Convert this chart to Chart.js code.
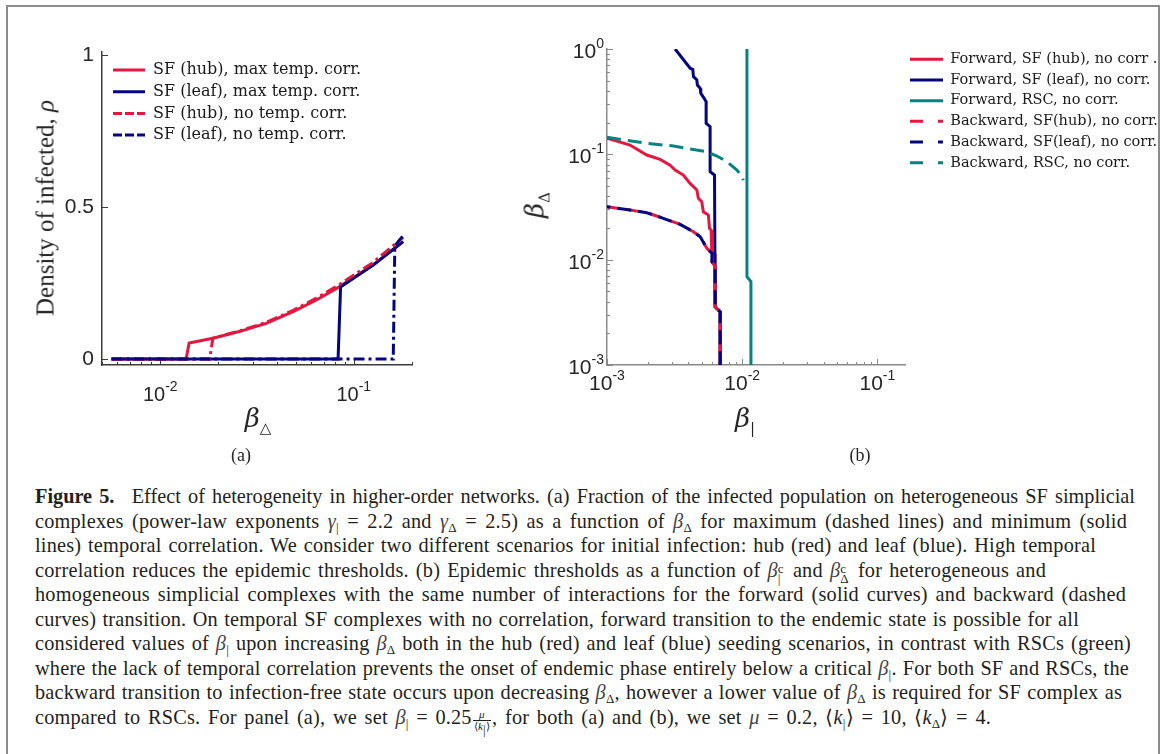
<!DOCTYPE html>
<html>
<head>
<meta charset="utf-8">
<script src="https://cdn.jsdelivr.net/npm/chart.js@4.4.1/dist/chart.umd.min.js"></script>
<style>
html,body{margin:0;padding:0;background:#fff;}
body{width:1168px;height:754px;position:relative;overflow:hidden;font-family:"Liberation Serif",serif;}
#frame{position:absolute;left:6px;top:5px;width:1154px;height:800px;border:2px solid #8c8c8c;border-bottom:none;box-sizing:border-box;}
canvas{position:absolute;top:0;}
#ca{left:0;}
#cb{left:480px;}
.lbl{position:absolute;white-space:nowrap;color:#262626;transform:translate(-50%,-50%);line-height:1;}
.rot{transform:translate(-50%,-50%) rotate(-90deg);}
.ax{font-size:25px;}
.bt{font-size:26px;font-family:"DejaVu Serif",serif;}
.bt i{font-style:italic;}
.bt sub{font-size:15px;vertical-align:-6px;font-style:normal;}
.pl{font-size:18px;}
#cap{position:absolute;left:35px;top:484px;font-size:20.3px;letter-spacing:0.2px;line-height:24.55px;color:#231f20;}
#cap div{text-align:justify;text-align-last:justify;height:24.55px;overflow:visible;}
#cap div.l1{letter-spacing:0;}
#cap i.m{font-style:italic;color:#444;}
#cap sub{font-size:13px;vertical-align:-4px;line-height:0;}
#cap .ss{display:inline-block;vertical-align:-6px;line-height:10px;font-size:13px;margin-right:2px;text-align:left;text-align-last:left;}
#cap .ss span{display:block;}
#cap .fr{display:inline-block;vertical-align:-6px;text-align:center;text-align-last:center;font-size:11px;line-height:11px;margin:0 1px;}
#cap .fr span{display:block;}
#cap .fr .dn{border-top:1px solid #231f20;padding:0 1px;}
</style>
</head>
<body>
<div id="frame"></div>
<canvas id="ca" width="470" height="470"></canvas>
<canvas id="cb" width="688" height="470"></canvas>

<div class="lbl rot ax" style="left:45px;top:208px;">Density of infected, <i>ρ</i></div>
<div class="lbl bt" style="left:258px;top:420px;"><i>β</i><sub>△</sub></div>
<div class="lbl pl" style="left:241px;top:455px;">(a)</div>
<div class="lbl rot bt" style="left:537px;top:205px;"><i>β</i><sub>Δ</sub></div>
<div class="lbl bt" style="left:745px;top:420px;"><i>β</i><sub>|</sub></div>
<div class="lbl pl" style="left:860px;top:455px;">(b)</div>

<div id="cap">
<div class="l1" style="width:1100px"><b>Figure 5.</b>&ensp; Effect of heterogeneity in higher-order networks. (a) Fraction of the infected population on heterogeneous SF simplicial</div>
<div style="width:1092px">complexes (power-law exponents <i class="m">γ</i><sub>|</sub> = 2.2 and <i class="m">γ</i><sub>Δ</sub> = 2.5) as a function of <i class="m">β</i><sub>Δ</sub> for maximum (dashed lines) and minimum (solid</div>
<div style="width:1061px">lines) temporal correlation. We consider two different scenarios for initial infection: hub (red) and leaf (blue). High temporal</div>
<div style="width:1011px">correlation reduces the epidemic thresholds. (b) Epidemic thresholds as a function of <i class="m">β</i><span class="ss"><span>c</span><span>|</span></span> and <i class="m">β</i><span class="ss"><span>c</span><span>Δ</span></span> for heterogeneous and</div>
<div style="width:1091px">homogeneous simplicial complexes with the same number of interactions for the forward (solid curves) and backward (dashed</div>
<div style="width:1044px">curves) transition. On temporal SF complexes with no correlation, forward transition to the endemic state is possible for all</div>
<div style="width:1096px">considered values of <i class="m">β</i><sub>|</sub> upon increasing <i class="m">β</i><sub>Δ</sub> both in the hub (red) and leaf (blue) seeding scenarios, in contrast with RSCs (green)</div>
<div style="width:1094px">where the lack of temporal correlation prevents the onset of endemic phase entirely below a critical <i class="m">β</i><sub>|</sub>. For both SF and RSCs, the</div>
<div style="width:1087px">backward transition to infection-free state occurs upon decreasing <i class="m">β</i><sub>Δ</sub>, however a lower value of <i class="m">β</i><sub>Δ</sub> is required for SF complex as</div>
<div style="width:956px">compared to RSCs. For panel (a), we set <i class="m">β</i><sub>|</sub> = 0.25<span class="fr"><span><i>μ</i></span><span class="dn">⟨<i>k</i><sub>|</sub>⟩</span></span>, for both (a) and (b), we set <i class="m">μ</i> = 0.2, ⟨<i>k</i><sub>|</sub>⟩ = 10, ⟨<i>k</i><sub>Δ</sub>⟩ = 4.</div>
</div>

<script>
// ---------- Panel (a) data ----------
const xRangeA = [0.005, 0.2];
const yRangeA = [-0.02, 1.01];
const yTicksA = [0, 0.5, 1];
const labelsA = ['SF (hub), max temp. corr.', 'SF (leaf), max temp. corr.', 'SF (hub), no temp. corr.', 'SF (leaf), no temp. corr.'];
const hubMaxX  = [0.0056, 0.0136, 0.0141, 0.0187, 0.0256, 0.0353, 0.0486, 0.0641, 0.0845, 0.126, 0.180];
const hubMaxY  = [0, 0, 0.052, 0.068, 0.090, 0.117, 0.156, 0.194, 0.238, 0.309, 0.386];
const leafMaxX = [0.0056, 0.083, 0.0855, 0.126, 0.180];
const leafMaxY = [0, 0, 0.237, 0.309, 0.386];
const hubNoX   = [0.0056, 0.0180, 0.0187, 0.0256, 0.0353, 0.0486, 0.0641, 0.0845, 0.126, 0.180];
const hubNoY   = [0, 0, 0.068, 0.092, 0.120, 0.160, 0.200, 0.245, 0.318, 0.400];
const leafNoX  = [0.0056, 0.160, 0.163, 0.181];
const leafNoY  = [0, 0, 0.372, 0.408];

// ---------- Panel (b) data ----------
const xRangeB = [0.001, 0.16];
const yRangeB = [0.001, 1];
const labelsB = ['Forward, SF (hub), no corr .', 'Forward, SF (leaf), no corr.', 'Forward, RSC, no corr.', 'Backward, SF(hub), no corr.', 'Backward, SF(leaf), no corr.', 'Backward, RSC, no corr.'];
const fwdHubX  = [0.001, 0.00148, 0.00197, 0.00247, 0.00293, 0.00319, 0.00367, 0.00412, 0.00462, 0.00474, 0.00502, 0.00516, 0.00562, 0.00573, 0.00589, 0.00596, 0.0063, 0.0063, 0.00687, 0.00687];
const fwdHubY  = [0.142, 0.1226, 0.0985, 0.0896, 0.079, 0.071, 0.0636, 0.053, 0.0458, 0.0382, 0.0355, 0.0285, 0.0265, 0.0198, 0.0191, 0.0118, 0.0112, 0.00357, 0.0032, 0.001];
const fwdLeafX = [0.00319, 0.00412, 0.00431, 0.00436, 0.00462, 0.00466, 0.00489, 0.00494, 0.00523, 0.00541, 0.00541, 0.00579, 0.00579, 0.00624, 0.00631, 0.00687, 0.00687];
const fwdLeafY = [1, 0.656, 0.641, 0.546, 0.508, 0.455, 0.423, 0.380, 0.340, 0.316, 0.197, 0.183, 0.0684, 0.0636, 0.00357, 0.0032, 0.001];
const fwdRscX  = [0.01084, 0.01084, 0.0116, 0.0116];
const fwdRscY  = [1, 0.0069, 0.0062, 0.001];
const bwdHubX  = [0.001, 0.00148, 0.00197, 0.00261, 0.00348, 0.00436, 0.00489, 0.00548, 0.00597, 0.00597, 0.00631, 0.00631, 0.00687, 0.00687];
const bwdHubY  = [0.0318, 0.0296, 0.0279, 0.0247, 0.0216, 0.0184, 0.0165, 0.0128, 0.0115, 0.00955, 0.00857, 0.00357, 0.0032, 0.001];
const bwdLeafX = [0.001, 0.00148, 0.00197, 0.00261, 0.00348, 0.00436, 0.00489, 0.00548, 0.00597, 0.00597, 0.00631, 0.00631, 0.00687, 0.00687];
const bwdLeafY = [0.0318, 0.0296, 0.0279, 0.0247, 0.0216, 0.0184, 0.0165, 0.0128, 0.0115, 0.00955, 0.00857, 0.00357, 0.0032, 0.001];
const bwdRscX  = [0.001, 0.00197, 0.0031, 0.00436, 0.00548, 0.0065, 0.0077, 0.00914, 0.00996, 0.0102];
const bwdRscY  = [0.145, 0.127, 0.120, 0.111, 0.106, 0.0964, 0.0851, 0.071, 0.0613, 0.057];

// ---------- styling ----------
const RED = '#e3173f', NAVY = '#05067f', TEAL = '#048383';
const AXIS_A = '#3a3a3a', AXIS_B = '#8a8a8a';
const SANS = '"Liberation Sans", Arial, sans-serif';
Chart.defaults.font.family = SANS;
Chart.defaults.color = '#262626';

const zip = (xs, ys) => xs.map((x, i) => ({x, y: ys[i]}));
function logTicks(scale) {
  const t = [];
  const lo = Math.floor(Math.log10(scale.min) + 1e-9), hi = Math.ceil(Math.log10(scale.max));
  for (let e = lo; e <= hi; e++) for (let k = 1; k <= 9; k++) {
    const v = parseFloat((k * Math.pow(10, e)).toPrecision(6));
    if (v >= scale.min * (1 - 1e-9) && v <= scale.max * (1 + 1e-9)) t.push({value: v, major: k === 1});
  }
  scale.ticks = t;
}
// MATLAB-style inward tick marks
const inwardTicks = {
  id: 'inwardTicks',
  beforeDatasetsDraw(chart, args, opts) {
    const ctx = chart.ctx, a = chart.chartArea;
    ctx.save();
    ctx.strokeStyle = opts.color; ctx.lineWidth = 1;
    const xs = chart.scales.x, ys = chart.scales.y;
    xs.ticks.forEach(t => {
      const p = Math.round(xs.getPixelForValue(t.value)) + 0.5;
      const L = t.major ? opts.major : opts.minor;
      ctx.beginPath(); ctx.moveTo(p, a.bottom); ctx.lineTo(p, a.bottom - L); ctx.stroke();
    });
    ys.ticks.forEach(t => {
      const p = Math.round(ys.getPixelForValue(t.value)) + 0.5;
      const L = t.major ? opts.major : opts.minor;
      ctx.beginPath(); ctx.moveTo(a.left, p); ctx.lineTo(a.left + L, p); ctx.stroke();
    });
    ctx.restore();
  }
};
// power-of-ten tick labels with a raised exponent
const logTickLabels = {
  id: 'logTickLabels',
  afterDraw(chart, args, o) {
    const ctx = chart.ctx, a = chart.chartArea;
    ctx.save();
    ctx.fillStyle = o.color; ctx.textAlign = 'left'; ctx.textBaseline = 'alphabetic';
    for (const id of ['x', 'y']) {
      const s = chart.scales[id];
      if (s.type !== 'logarithmic') continue;
      for (const t of s.ticks) {
        const e = Math.log10(t.value), r = Math.round(e);
        if (Math.abs(e - r) > 1e-6) continue;
        const exp = String(r);
        ctx.font = o.size + 'px ' + SANS; const wb = ctx.measureText('10').width;
        ctx.font = o.supSize + 'px ' + SANS; const we = ctx.measureText(exp).width;
        const p = s.getPixelForValue(t.value);
        let x0, yb;
        if (id === 'x') { x0 = p - (wb + we) / 2; yb = a.bottom + o.xBase; }
        else { x0 = a.left - o.yPad - (wb + we); yb = p + o.yBase; }
        ctx.font = o.size + 'px ' + SANS; ctx.fillText('10', x0, yb);
        ctx.font = o.supSize + 'px ' + SANS; ctx.fillText(exp, x0 + wb, yb - o.raise);
      }
    }
    ctx.restore();
  }
};
// put the legend box where the reference has it, relative to the plot area
const placeLegend = {
  id: 'placeLegend',
  beforeDraw(chart, args, o) {
    const L = chart.legend, a = chart.chartArea;
    const left = (o.anchor === 'right' ? a.right : a.left) + o.dx;
    const top = a.top + o.dy;
    L.left = left; L.top = top; L.right = chart.width; L.bottom = a.bottom;
    L.width = L.right - L.left; L.height = L.bottom - L.top;
  }
};
// legend samples drawn as line segments carrying each dataset's dash pattern
function legendItems(chart) {
  return Chart.defaults.plugins.legend.labels.generateLabels(chart).map(it => {
    const d = chart.data.datasets[it.datasetIndex];
    return Object.assign(it, {
      pointStyle: 'line', lineWidth: 3, strokeStyle: d.borderColor, fillStyle: d.borderColor,
      lineDash: d.legendDash || d.borderDash || [], lineDashOffset: 0
    });
  });
}
function ds(label, xs, ys, color, dash, idx, n, extra) {
  return Object.assign({
    label, data: zip(xs, ys), borderColor: color, backgroundColor: color,
    borderWidth: 3, borderDash: dash, pointRadius: 0, tension: 0, fill: false,
    borderJoinStyle: 'miter', borderCapStyle: 'butt', order: n - 1 - idx
  }, extra || {});
}
const DASHDOT = [11, 4, 3, 4];
const DASHDOT_LEGEND = [9, 3];
const DASH = [14, 7];
const DASH_LEGEND = [13, 15];

// ---------- Chart A ----------
new Chart(document.getElementById('ca'), {
  type: 'line',
  data: { datasets: [
    ds(labelsA[0], hubMaxX, hubMaxY, RED, [], 0, 4),
    ds(labelsA[1], leafMaxX, leafMaxY, NAVY, [], 1, 4),
    ds(labelsA[2], hubNoX, hubNoY, RED, DASHDOT, 2, 4, { legendDash: DASHDOT_LEGEND }),
    ds(labelsA[3], leafNoX, leafNoY, NAVY, DASHDOT, 3, 4, { legendDash: DASHDOT_LEGEND })
  ]},
  options: {
    responsive: false, animation: false,
    layout: { padding: { left: 52, top: 52, right: 58, bottom: 60 } },
    plugins: {
      tooltip: { enabled: false },
      inwardTicks: { color: AXIS_A, major: 6, minor: 3 },
      logTickLabels: { color: '#262626', size: 20, supSize: 14, xBase: 36, raise: 10, yBase: 9, yPad: 8 },
      placeLegend: { anchor: 'left', dx: 5.3, dy: 4.3 },
      legend: {
        position: 'chartArea', align: 'start',
        labels: {
          usePointStyle: true, pointStyle: 'line', pointStyleWidth: 32, boxHeight: 16,
          font: { family: '"DejaVu Serif", serif', size: 16 }, color: '#1a1a1a', padding: 5.7,
          generateLabels: legendItems,
          sort: (a, b) => a.datasetIndex - b.datasetIndex
        }
      }
    },
    scales: {
      x: {
        type: 'logarithmic', min: xRangeA[0], max: xRangeA[1],
        afterBuildTicks: logTicks,
        afterFit: s => { s.height = 45; },
        grid: { display: true, drawOnChartArea: false, drawTicks: false, color: AXIS_A },
        border: { display: true, color: AXIS_A, width: 1.5 },
        ticks: { display: false, autoSkip: false }
      },
      y: {
        type: 'linear', min: yRangeA[0], max: yRangeA[1],
        afterBuildTicks: s => { s.ticks = yTicksA.map(v => ({value: v, major: true})); },
        afterFit: s => { s.width = 50; },
        grid: { display: true, drawOnChartArea: false, drawTicks: false, color: AXIS_A },
        border: { display: true, color: AXIS_A, width: 1.5 },
        ticks: { padding: 8, font: { size: 21 }, callback: v => String(v) }
      }
    }
  },
  plugins: [inwardTicks, logTickLabels, placeLegend]
});

// ---------- Chart B ----------
new Chart(document.getElementById('cb'), {
  type: 'line',
  data: { datasets: [
    ds(labelsB[0], fwdHubX, fwdHubY, RED, [], 0, 6),
    ds(labelsB[1], fwdLeafX, fwdLeafY, NAVY, [], 1, 6),
    ds(labelsB[2], fwdRscX, fwdRscY, TEAL, [], 2, 6),
    ds(labelsB[3], bwdHubX, bwdHubY, RED, DASH, 3, 6, { legendDash: DASH_LEGEND }),
    ds(labelsB[4], bwdLeafX, bwdLeafY, NAVY, DASH, 4, 6, { legendDash: DASH_LEGEND, borderDashOffset: 10.5 }),
    ds(labelsB[5], bwdRscX, bwdRscY, TEAL, DASH, 5, 6, { legendDash: DASH_LEGEND })
  ]},
  options: {
    responsive: false, animation: false,
    layout: { padding: { left: 67, top: 49, right: 263, bottom: 60 } },
    plugins: {
      tooltip: { enabled: false },
      inwardTicks: { color: AXIS_B, major: 6, minor: 3 },
      logTickLabels: { color: '#262626', size: 21, supSize: 14, xBase: 25, raise: 10, yBase: 9, yPad: 3 },
      placeLegend: { anchor: 'right', dx: -1.2, dy: -3.2 },
      legend: {
        position: 'chartArea', align: 'start',
        labels: {
          usePointStyle: true, pointStyle: 'line', pointStyleWidth: 33, boxHeight: 14.5,
          font: { family: '"DejaVu Serif", serif', size: 14.5 }, color: '#1a1a1a', padding: 6.2,
          generateLabels: legendItems,
          sort: (a, b) => a.datasetIndex - b.datasetIndex
        }
      }
    },
    scales: {
      x: {
        type: 'logarithmic', min: xRangeB[0], max: xRangeB[1],
        afterBuildTicks: logTicks,
        afterFit: s => { s.height = 45; },
        grid: { display: true, drawOnChartArea: false, drawTicks: false, color: AXIS_B },
        border: { display: true, color: AXIS_B, width: 1.5 },
        ticks: { display: false, autoSkip: false }
      },
      y: {
        type: 'logarithmic', min: yRangeB[0], max: yRangeB[1],
        afterBuildTicks: logTicks,
        afterFit: s => { s.width = 60; },
        grid: { display: true, drawOnChartArea: false, drawTicks: false, color: AXIS_B },
        border: { display: true, color: AXIS_B, width: 1.5 },
        ticks: { display: false, autoSkip: false }
      }
    }
  },
  plugins: [inwardTicks, logTickLabels, placeLegend]
});
</script>
</body>
</html>
